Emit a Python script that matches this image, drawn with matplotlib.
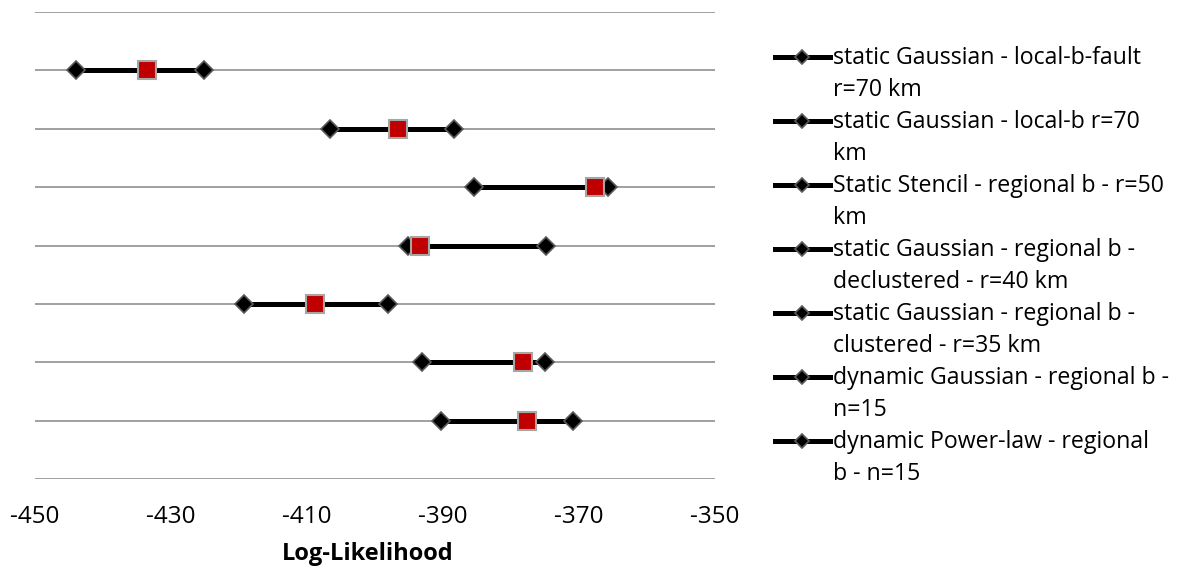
import matplotlib
matplotlib.use("Agg")
import matplotlib.pyplot as plt
from matplotlib.lines import Line2D

plt.rcParams['font.family'] = ['Open Sans', 'DejaVu Sans']

# Model names (legend order, top row first); each is wrapped over two lines
models = [
    ("static Gaussian - local-b-fault", "r=70 km"),
    ("static Gaussian - local-b r=70", "km"),
    ("Static Stencil - regional b - r=50", "km"),
    ("static Gaussian - regional b -", "declustered - r=40 km"),
    ("static Gaussian - regional b -", "clustered - r=35 km"),
    ("dynamic Gaussian - regional b -", "n=15"),
    ("dynamic Power-law - regional", "b - n=15"),
]
# Log-likelihood range (lower / upper) and central estimate per model
ll_low = [-444.0, -406.6, -385.4, -395.1, -419.3, -393.1, -390.3]
ll_high = [-425.1, -388.4, -365.8, -374.9, -398.1, -375.0, -370.9]
ll_best = [-433.6, -396.6, -367.6, -393.4, -408.8, -378.2, -377.7]
x_ticks = [-450, -430, -410, -390, -370, -350]

W, H = 1178, 570
PX = 72 / 100  # points per pixel at dpi 100
fig = plt.figure(figsize=(W / 100, H / 100), dpi=100)
ax = fig.add_axes([35 / W, 1 - 479 / H, 680 / W, 467 / H])

n = len(models)
ypos = [n - i for i in range(n)]

line_kw = dict(color="black", lw=3.6, marker="D", ms=9.5,
               mfc="black", mec="#595959", mew=1.2, zorder=3)
for lo, hi, y in zip(ll_low, ll_high, ypos):
    ax.plot([lo, hi], [y, y], **line_kw)
ax.plot(ll_best, ypos, ls="none", marker="s", ms=13.5, mfc="#C00000",
        mec="#A6A6A6", mew=1.5, zorder=4)

ax.set_xlim(-450, -350)
ax.set_ylim(0, n + 1)
ax.set_yticks(range(0, n + 2))
ax.set_yticklabels([])
ax.set_xticks(x_ticks)
ax.set_xticklabels([str(t) for t in x_ticks], fontsize=17.5)
for lab in ax.get_xticklabels():
    lab.set_verticalalignment("baseline")
ax.tick_params(axis="both", length=0)
ax.tick_params(axis="x", pad=44 * PX)
ax.grid(axis="y", color="#868686", lw=1.1, zorder=1)
for s in ax.spines.values():
    s.set_visible(False)
ax.set_xlabel("Log-Likelihood", fontsize=17, fontweight="bold", va="baseline")
ax.xaxis.set_label_coords((368 - 35) / 680, (479 - 560) / 467)

# Legend: one thick line with a diamond per model, text wrapped over two lines
for i, (first, second) in enumerate(models):
    yh = 57 + 64 * i
    yc = 1 - yh / H
    fig.add_artist(Line2D([775 / W, 830 / W], [yc, yc], color="black", lw=3.6))
    fig.add_artist(Line2D([802 / W], [yc], marker="D", ms=7.5, mfc="black",
                          mec="#595959", mew=1.2, ls="none"))
    fig.text(833 / W, 1 - (yh + 6.5) / H, first, fontsize=16.7, va="baseline")
    fig.text(833 / W, 1 - (yh + 38.5) / H, second, fontsize=16.7, va="baseline")

fig.savefig("out.png", dpi=100)
